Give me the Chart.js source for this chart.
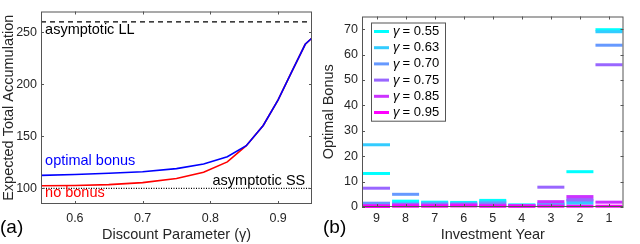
<!DOCTYPE html>
<html>
<head>
<meta charset="utf-8">
<script src="https://cdn.jsdelivr.net/npm/chart.js@4.4.1/dist/chart.umd.min.js"></script>
<style>
    body { margin: 0; background: #fff; }
    #wrap { position: relative; width: 640px; height: 244px; font-family: "Liberation Sans", Arial, sans-serif; }
    canvas { position: absolute; top: 0; }
    #chart-a { left: 0; }
    #chart-b { left: 320px; }
    .panel-label { position: absolute; font-size: 19px; color: #000; }
</style>
</head>
<body>
<div id="wrap">
    <canvas id="chart-a" width="320" height="244"></canvas>
    <canvas id="chart-b" width="320" height="244"></canvas>
    <span class="panel-label" style="left: 0px; top: 216px;">(a)</span>
    <span class="panel-label" style="left: 323px; top: 216px;">(b)</span>
</div>
<script>
// panel (a): expected total accumulation vs discount parameter
const gammaGrid = [0.55, 0.6, 0.65, 0.7, 0.75, 0.79, 0.825, 0.853, 0.878, 0.9, 0.92, 0.94, 0.95];
const accOptimalBonus = [112.5, 113.3, 114.5, 116, 119, 123.5, 130.5, 141, 160.5, 185, 212, 238.5, 244.5];
const accNoBonus = [102.5, 102.8, 103.6, 105.5, 109.5, 115.5, 125.5, 141, 160.5, 185, 212, 238.5, 244.5];
const asymptoteLL = 260;
const asymptoteSS = 100;
const accXTicks = [0.6, 0.7, 0.8, 0.9];
const accYTicks = [100, 150, 200, 250];

// panel (b): optimal bonus per investment year
const investmentYears = ['9', '8', '7', '6', '5', '4', '3', '2', '1'];
const gammaLabels = ['0.55', '0.63', '0.70', '0.75', '0.85', '0.95'];
const bonusG055 = [13.2, 2.3, 1.9, 1.8, 2.6, 0.8, 1.0, 13.9, 69.8];
const bonusG063 = [24.5, 1.5, 1.6, 1.5, 2.0, 0.7, 1.3, 1.5, 69.0];
const bonusG070 = [1.5, 5.0, 1.2, 1.2, 1.5, 0.6, 0.9, 2.5, 63.7];
const bonusG075 = [7.4, 1.0, 0.8, 0.9, 0.8, 0.5, 7.8, 3.0, 56.0];
const bonusG085 = [0.6, 0.6, 0.6, 0.7, 0.5, 0.4, 2.1, 4.1, 1.9];
const bonusG095 = [0.2, 0.3, 0.3, 0.4, 0.3, 0.3, 0.3, 0.3, 0.3];
const bonusYTicks = [0, 10, 20, 30, 40, 50, 60, 70];

const gammaColors = ['#00ffff', '#33ccff', '#6699ff', '#9966ff', '#cc33ff', '#ff00ff'];
const fontFamily = '"Liberation Sans", Arial, sans-serif';
const axisColor = '#262626';

const accNotes = [
    {text: 'asymptotic LL', x: 0.556, y: 252.5, color: '#000', align: 'left'},
    {text: 'optimal bonus', x: 0.556, y: 126.2, color: '#0000ff', align: 'left'},
    {text: 'no bonus', x: 0.556, y: 95.2, color: '#ff0000', align: 'left'},
    {text: 'asymptotic SS', x: 0.940, y: 107, color: '#000', align: 'right'}
];

function pointsOf(xs, ys) {
    return xs.map((x, i) => ({x: x, y: ys[i]}));
}

function fixedTicks(list) {
    return function (scale) {
        scale.ticks = list.map(v => ({value: v}));
    };
}

// matlab style box with inward ticks
const boxTicks = {
    id: 'boxTicks',
    afterDraw(chart) {
        const ctx = chart.ctx;
        const a = chart.chartArea;
        const sx = chart.scales.x, sy = chart.scales.y;
        const len = 3;
        ctx.save();
        ctx.strokeStyle = '#555';
        ctx.lineWidth = 1;
        ctx.strokeRect(a.left + 0.5, a.top + 0.5, a.width - 1, a.height - 1);
        ctx.beginPath();
        sx.ticks.forEach((t, i) => {
            const px = Math.round(sx.getPixelForTick(i)) + 0.5;
            ctx.moveTo(px, a.bottom); ctx.lineTo(px, a.bottom - len);
            ctx.moveTo(px, a.top); ctx.lineTo(px, a.top + len);
        });
        sy.ticks.forEach((t, i) => {
            const py = Math.round(sy.getPixelForTick(i)) + 0.5;
            ctx.moveTo(a.left, py); ctx.lineTo(a.left + len, py);
            ctx.moveTo(a.right, py); ctx.lineTo(a.right - len, py);
        });
        ctx.stroke();
        ctx.restore();
    }
};

const noteText = {
    id: 'noteText',
    afterDatasetsDraw(chart, args, opts) {
        const ctx = chart.ctx;
        ctx.save();
        ctx.font = '14.5px ' + fontFamily;
        ctx.textBaseline = 'middle';
        (opts.notes || []).forEach(n => {
            ctx.fillStyle = n.color;
            ctx.textAlign = n.align;
            ctx.fillText(n.text, chart.scales.x.getPixelForValue(n.x), chart.scales.y.getPixelForValue(n.y));
        });
        ctx.restore();
    }
};

const gammaLegend = {
    id: 'gammaLegend',
    afterDraw(chart) {
        const ctx = chart.ctx;
        const a = chart.chartArea;
        const x0 = a.left + 9, y0 = a.top + 6;
        const w = 74, rowH = 16.2;
        ctx.save();
        ctx.fillStyle = '#fff';
        ctx.fillRect(x0, y0, w, rowH * gammaLabels.length + 1);
        ctx.strokeStyle = '#555';
        ctx.lineWidth = 1;
        ctx.strokeRect(x0 + 0.5, y0 + 0.5, w, rowH * gammaLabels.length + 1);
        ctx.textBaseline = 'middle';
        gammaLabels.forEach((g, i) => {
            const cy = y0 + 9 + i * rowH;
            ctx.strokeStyle = gammaColors[i];
            ctx.lineWidth = 3;
            ctx.beginPath();
            ctx.moveTo(x0 + 3, cy);
            ctx.lineTo(x0 + 18, cy);
            ctx.stroke();
            ctx.fillStyle = '#000';
            ctx.font = 'italic 13px ' + fontFamily;
            ctx.textAlign = 'left';
            ctx.fillText('γ', x0 + 22, cy);
            ctx.font = '13px ' + fontFamily;
            ctx.fillText(' = ' + g, x0 + 28, cy);
        });
        ctx.restore();
    }
};

function drawAccumulationChart() {
    const chartConfig = {
        type: 'scatter',
        data: {
            datasets: [
                {
                    data: pointsOf(gammaGrid, accOptimalBonus),
                    showLine: true,
                    borderColor: '#0000ff',
                    borderWidth: 1.6,
                    pointRadius: 0
                },
                {
                    data: pointsOf(gammaGrid, accNoBonus),
                    showLine: true,
                    borderColor: '#ff0000',
                    borderWidth: 1.6,
                    pointRadius: 0
                },
                {
                    data: pointsOf([0.55, 0.95], [asymptoteLL, asymptoteLL]),
                    showLine: true,
                    borderColor: '#000',
                    borderWidth: 1.3,
                    borderDash: [5, 4],
                    pointRadius: 0
                },
                {
                    data: pointsOf([0.55, 0.95], [asymptoteSS, asymptoteSS]),
                    showLine: true,
                    borderColor: '#000',
                    borderWidth: 1.3,
                    borderDash: [1, 1.5],
                    pointRadius: 0
                }
            ]
        },
        options: {
            responsive: false,
            animation: false,
            layout: {padding: {top: 2, right: 8, left: 0, bottom: 0}},
            plugins: {
                legend: {display: false},
                tooltip: {enabled: false},
                noteText: {notes: accNotes}
            },
            scales: {
                x: {
                    type: 'linear',
                    min: 0.55,
                    max: 0.95,
                    afterBuildTicks: fixedTicks(accXTicks),
                    afterFit: s => { s.height = 40; },
                    grid: {display: false, drawTicks: false},
                    border: {display: false},
                    ticks: {
                        color: axisColor, padding: 7, maxRotation: 0,
                        font: {family: fontFamily, size: 12.5},
                        callback: v => v.toFixed(1)
                    },
                    title: {
                        display: true, text: 'Discount Parameter (γ)', color: axisColor,
                        font: {family: fontFamily, size: 14.5}, padding: {top: 3, bottom: 0}
                    }
                },
                y: {
                    min: 85,
                    max: 270,
                    afterBuildTicks: fixedTicks(accYTicks),
                    afterFit: s => { s.width = 41; },
                    grid: {display: false, drawTicks: false},
                    border: {display: false},
                    ticks: {color: axisColor, padding: 4, font: {family: fontFamily, size: 12.5}},
                    title: {
                        display: true, text: 'Expected Total Accumulation', color: axisColor,
                        font: {family: fontFamily, size: 14.5}, padding: {top: 0, bottom: 1}
                    }
                }
            }
        },
        plugins: [noteText, boxTicks]
    };
    new Chart(document.querySelector('#chart-a'), chartConfig);
}

function drawBonusChart() {
    const series = [bonusG055, bonusG063, bonusG070, bonusG075, bonusG085, bonusG095];
    const datasets = series.map((values, i) => ({
        label: 'γ = ' + gammaLabels[i],
        data: values,
        showLine: false,
        pointStyle: 'line',
        pointRadius: 13.5,
        pointBorderWidth: 3,
        borderColor: gammaColors[i],
        backgroundColor: gammaColors[i],
        order: series.length - i,
        clip: false
    }));

    const chartConfig = {
        type: 'line',
        data: {labels: investmentYears, datasets: datasets},
        options: {
            responsive: false,
            animation: false,
            layout: {padding: {top: 2, right: 3, left: 0, bottom: 0}},
            plugins: {
                legend: {display: false},
                tooltip: {enabled: false}
            },
            scales: {
                x: {
                    offset: true,
                    afterFit: s => { s.height = 37; },
                    grid: {display: false, drawTicks: false},
                    border: {display: false},
                    ticks: {color: axisColor, padding: 4, font: {family: fontFamily, size: 12.5}},
                    title: {
                        display: true, text: 'Investment Year', color: axisColor,
                        font: {family: fontFamily, size: 14.5}, padding: {top: 3, bottom: 0}
                    }
                },
                y: {
                    min: 0,
                    max: 75,
                    afterBuildTicks: fixedTicks(bonusYTicks),
                    afterFit: s => { s.width = 42; },
                    grid: {display: false, drawTicks: false},
                    border: {display: false},
                    ticks: {color: axisColor, padding: 4, font: {family: fontFamily, size: 12.5}},
                    title: {
                        display: true, text: 'Optimal Bonus', color: axisColor,
                        font: {family: fontFamily, size: 14.5}, padding: {top: 0, bottom: 1}
                    }
                }
            }
        },
        plugins: [boxTicks, gammaLegend]
    };
    new Chart(document.querySelector('#chart-b'), chartConfig);
}

drawAccumulationChart();
drawBonusChart();
</script>
</body>
</html>
